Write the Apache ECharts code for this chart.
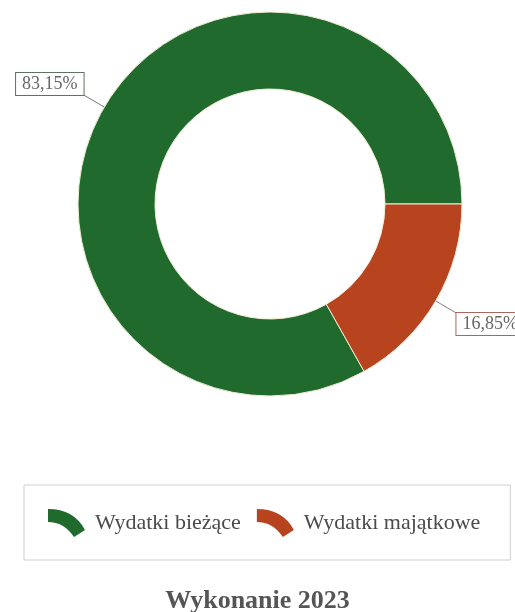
<!DOCTYPE html>
<html>
<head>
<meta charset="utf-8">
<script src="https://cdn.jsdelivr.net/npm/echarts@6/dist/echarts.min.js"></script>
<style>
html,body{margin:0;padding:0;background:#fff;}
#chart{width:515px;height:612px;}
</style>
</head>
<body>
<div id="chart"></div>
<script>
const categories = ['Wydatki bieżące', 'Wydatki majątkowe'];
const shares = [83.15, 16.85];
const sliceColors = ['#1f6a2c', '#b8431f'];
const labelBorders = ['#5e7262', '#a8675e'];
const lineColors = ['#6d7d6f', '#8d7f7c'];
const chartTitle = 'Wykonanie 2023';

const arcIcon = 'path://M0 0 Q26 0 37 21 L26 28 Q16 13 0 13 Z';

const chart = echarts.init(document.getElementById('chart'));
chart.setOption({
  animation: false,
  backgroundColor: '#ffffff',
  title: {
    text: chartTitle,
    left: 'center',
    top: 583,
    textStyle: { fontFamily: 'Liberation Serif', fontWeight: 'bold', fontSize: 26, color: '#555555' }
  },
  legend: {
    left: 24,
    top: 485,
    orient: 'horizontal',
    padding: [24, 30, 23, 24],
    borderColor: '#cfcfcf',
    borderWidth: 1,
    itemWidth: 37,
    itemHeight: 28,
    itemGap: 16,
    icon: arcIcon,
    itemStyle: { borderWidth: 0 },
    textStyle: { fontFamily: 'Liberation Serif', fontSize: 22, color: '#4a4a4a', padding: [0, 0, 0, 5] },
    data: categories
  },
  series: [{
    type: 'pie',
    center: [270, 204],
    radius: [115, 192],
    startAngle: 0,
    clockwise: false,
    avoidLabelOverlap: false,
    itemStyle: { borderColor: '#f3ecd6', borderWidth: 1 },
    label: {
      show: true,
      position: 'outside',
      formatter: p => p.value.toFixed(2).replace('.', ',') + '%',
      fontFamily: 'Liberation Serif',
      fontSize: 18,
      lineHeight: 18,
      color: '#666666',
      backgroundColor: '#ffffff',
      borderWidth: 1,
      padding: [2, 6]
    },
    labelLine: { show: true, length: 24, length2: 0, lineStyle: { width: 1 } },
    labelLayout: function (p) {
      const pts = p.labelLinePoints;
      if (!pts) return {};
      const end = pts[pts.length - 1];
      const left = end[0] < pts[0][0];
      return {
        x: end[0],
        y: end[1],
        align: left ? 'right' : 'left',
        verticalAlign: left ? 'bottom' : 'top',
        labelLinePoints: pts
      };
    },
    data: categories.map((name, i) => ({
      name: name,
      value: shares[i],
      itemStyle: { color: sliceColors[i] },
      label: { borderColor: labelBorders[i] },
      labelLine: { lineStyle: { color: lineColors[i] } }
    }))
  }]
});
</script>
</body>
</html>
